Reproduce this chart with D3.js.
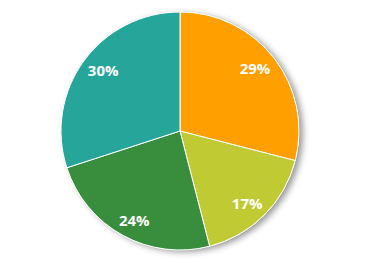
<!DOCTYPE html>
<html><head><meta charset="utf-8">
<script src="https://cdn.jsdelivr.net/npm/d3@7"></script>
<style>html,body{margin:0;padding:0;background:#fff;}</style>
</head><body>
<svg id="chart" width="368" height="267"></svg>
<script>
const categories = ["A", "B", "C", "D"];
const values = [29, 17, 24, 30];
const labels = ["29%", "17%", "24%", "30%"];
const colors = ["#FFA000", "#C0CA33", "#388E3C", "#26A69A"];

const svg = d3.select("#chart");
const cx = 180, cy = 131, R = 119;
const defs = svg.append("defs");
const f = defs.append("filter").attr("id","sh").attr("x","-20%").attr("y","-20%").attr("width","140%").attr("height","140%");
f.append("feDropShadow").attr("dx",4).attr("dy",2).attr("stdDeviation",3).attr("flood-color","#000").attr("flood-opacity",0.4);

const g = svg.append("g").attr("transform",`translate(${cx},${cy})`);
const pie = d3.pie().sort(null).value(d=>d);
const arcs = pie(values);
const arc = d3.arc().innerRadius(0).outerRadius(R);
const mid = d => (d.startAngle + d.endAngle) / 2;

g.append("circle").attr("r",R).attr("fill","#fff").attr("filter","url(#sh)");
g.selectAll("path.s").data(arcs).enter().append("path")
  .attr("class","s").attr("d",arc)
  .attr("fill",(d,i)=>colors[i])
  .attr("stroke","#fff").attr("stroke-width",1);
g.selectAll("text").data(arcs).enter().append("text")
  .attr("x",d=>95*Math.sin(mid(d)))
  .attr("y",d=>-102*Math.cos(mid(d)))
  .attr("text-anchor","middle").attr("dy","0.36em")
  .attr("fill","#fff").attr("font-family","'Open Sans', sans-serif")
  .attr("font-weight","bold").attr("font-size","15px")
  .text((d,i)=>labels[i]);
</script>
</body></html>
